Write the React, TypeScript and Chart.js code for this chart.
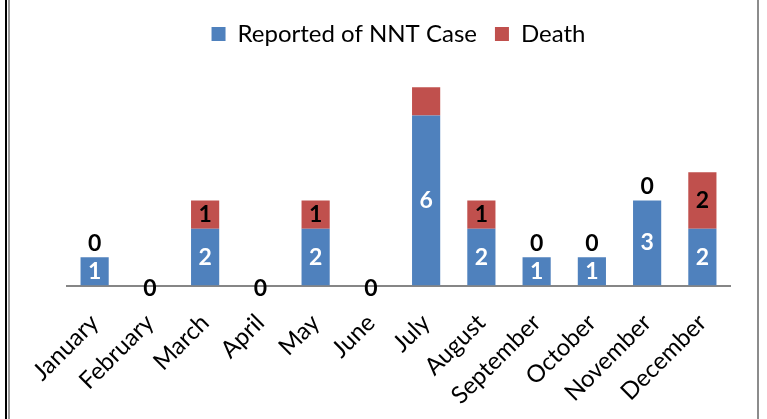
import React, { useEffect, useRef } from "react";
import { Chart, registerables } from "chart.js";

Chart.register(...registerables);

const months = ["January", "February", "March", "April", "May", "June", "July", "August", "September", "October", "November", "December"];
const reported = [1, 0, 2, 0, 2, 0, 6, 2, 1, 1, 3, 2];
const deaths = [0, 0, 1, 0, 1, 0, 1, 1, 0, 0, 0, 2];
const deathLabels = ["0", "0", "1", "0", "1", "0", "", "1", "0", "0", "0", "2"];
const Y_MAX = 8.1;

const BLUE = "#4F81BD";
const RED = "#C0504D";
const FONT = "Lato, 'Open Sans', sans-serif";
const CANVAS_H = 433;

const framePlugin = {
  id: "frame",
  afterDraw(chart: any) {
    const ctx = chart.ctx;
    ctx.save();
    ctx.fillStyle = "#000";
    ctx.fillRect(5, 0, 2, chart.height);
    ctx.fillStyle = "#999";
    ctx.fillRect(8, 0, 2, chart.height);
    ctx.fillStyle = "#8c8c8c";
    ctx.fillRect(757, 0, 2, chart.height);
    ctx.restore();
  },
};

const labelPlugin = {
  id: "stackLabels",
  afterDatasetsDraw(chart: any) {
    const ctx = chart.ctx;
    const m0 = chart.getDatasetMeta(0);
    const m1 = chart.getDatasetMeta(1);
    ctx.save();
    ctx.font = `bold 23px ${FONT}`;
    ctx.textAlign = "center";
    ctx.textBaseline = "middle";
    reported.forEach((v, i) => {
      const b = m0.data[i];
      if (v > 0) {
        ctx.fillStyle = "#fff";
        ctx.fillText(String(v), b.x, (b.y + b.base) / 2);
      }
      const lbl = deathLabels[i];
      if (!lbl) return;
      const d = m1.data[i];
      ctx.fillStyle = "#000";
      if (deaths[i] > 0) {
        ctx.fillText(lbl, d.x, (d.y + d.base) / 2);
      } else if (v > 0) {
        ctx.fillText(lbl, d.x, d.y - 14);
      } else {
        ctx.fillText(lbl, d.x, d.y + 3);
      }
    });
    ctx.restore();
  },
};

export default function App() {
  const ref = useRef<HTMLCanvasElement>(null);
  useEffect(() => {
    if (!ref.current) return;
    const chart = new Chart(ref.current, {
      type: "bar",
      data: {
        labels: months,
        datasets: [
          { label: "Reported of NNT Case", data: reported, backgroundColor: BLUE, barPercentage: 0.51, categoryPercentage: 1 },
          { label: "Death", data: deaths, backgroundColor: RED, barPercentage: 0.51, categoryPercentage: 1 },
        ],
      },
      options: {
        responsive: false,
        animation: false,
        layout: { padding: { top: 4, left: 67, right: 37, bottom: 0 } },
        plugins: {
          legend: {
            position: "top",
            labels: {
              color: "#000",
              font: { family: FONT, size: 24 },
              boxWidth: 14,
              boxHeight: 14,
              padding: 18,
            },
          },
          tooltip: { enabled: false },
        },
        scales: {
          x: {
            stacked: true,
            grid: { display: false, drawTicks: false },
            border: { display: true, color: "#868686", width: 2 },
            ticks: {
              color: "#000",
              font: { family: FONT, size: 24 },
              minRotation: 45,
              maxRotation: 45,
              padding: 23,
            },
          },
          y: {
            stacked: true,
            display: false,
            min: 0,
            max: Y_MAX,
          },
        },
      },
      plugins: [labelPlugin, framePlugin],
    });
    return () => chart.destroy();
  }, []);
  return (
    <div style={{ position: "absolute", left: 0, top: 0, width: 767, height: 419, overflow: "hidden", background: "#fff" }}>
      <canvas ref={ref} width={767} height={CANVAS_H} style={{ display: "block" }} />
    </div>
  );
}
